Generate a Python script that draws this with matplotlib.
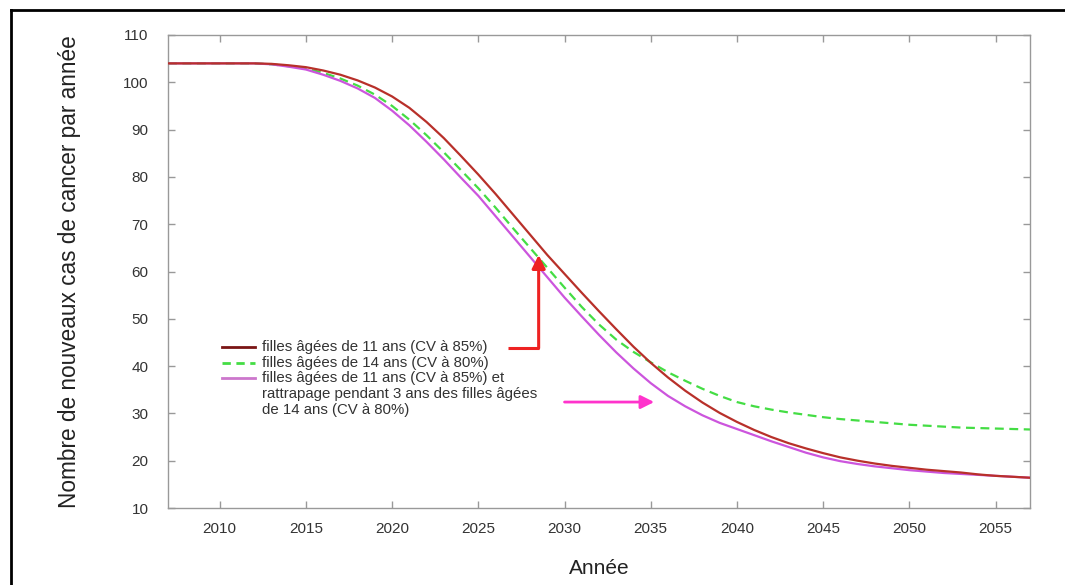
import matplotlib
matplotlib.use("Agg")
import matplotlib.pyplot as plt
from matplotlib.lines import Line2D

plt.rcParams['font.family'] = ['Liberation Sans', 'DejaVu Sans']

# values (one point per year after 2012)
annees = [2007, 2010, 2012] + list(range(2013, 2058))
cas_11ans = [104, 104, 104,
             103.9, 103.6, 103.2, 102.5, 101.6, 100.4, 98.9, 97.0, 94.6, 91.6,
             88.2, 84.4, 80.5, 76.4, 72.1, 67.8, 63.5, 59.5, 55.5, 51.6,
             47.8, 44.1, 40.7, 37.6, 34.8, 32.3, 30.1, 28.2, 26.5, 25.0,
             23.7, 22.6, 21.6, 20.7, 20.0, 19.4, 18.9, 18.5, 18.1, 17.8,
             17.5, 17.1, 16.8, 16.6, 16.4]
cas_14ans = [104, 104, 104,
             103.8, 103.4, 102.9, 102.0, 100.8, 99.3, 97.4, 95.0, 92.1, 88.8,
             85.2, 81.4, 77.6, 73.5, 69.2, 65.0, 60.8, 56.6, 52.5, 48.8,
             45.6, 43.0, 40.8, 38.7, 36.9, 35.2, 33.7, 32.4, 31.5, 30.8,
             30.2, 29.7, 29.2, 28.8, 28.5, 28.2, 27.9, 27.6, 27.4, 27.2,
             27.0, 26.9, 26.8, 26.7, 26.6]
cas_rattrapage = [104, 104, 104,
                  103.8, 103.3, 102.7, 101.6, 100.3, 98.7, 96.7, 94.0, 90.9, 87.4,
                  83.7, 79.8, 76.0, 71.7, 67.4, 63.1, 58.8, 54.5, 50.5, 46.6,
                  42.9, 39.5, 36.4, 33.7, 31.5, 29.6, 28.0, 26.7, 25.4, 24.1,
                  22.9, 21.7, 20.7, 19.9, 19.3, 18.8, 18.4, 18.0, 17.7, 17.4,
                  17.2, 17.0, 16.8, 16.6, 16.4]

legende = ["filles âgées de 11 ans (CV à 85%)",
           "filles âgées de 14 ans (CV à 80%)",
           "filles âgées de 11 ans (CV à 85%) et",
           "rattrapage pendant 3 ans des filles âgées",
           "de 14 ans (CV à 80%)"]

x_ticks = list(range(2010, 2060, 5))
y_ticks = list(range(10, 120, 10))

rouge = '#B8302A'
vert = '#44DD44'
violet = '#CC55DD'

fig = plt.figure(figsize=(10.65, 5.85), dpi=100)
W, H = 1065.0, 585.0
ax = fig.add_axes([168 / W, 1 - 508 / H, 862 / W, 473 / H])

ax.plot(annees, cas_11ans, color=rouge, lw=1.6, zorder=3)
ax.plot(annees, cas_14ans, color=vert, lw=1.6, ls=(0, (4, 2.5)), zorder=2)
ax.plot(annees, cas_rattrapage, color=violet, lw=1.6, zorder=2)

ax.set_xlim(2007, 2057)
ax.set_ylim(10, 110)
ax.set_xticks(x_ticks)
ax.set_yticks(y_ticks)

for s in ax.spines.values():
    s.set_color('#999999')
    s.set_linewidth(1.0)
ax.tick_params(direction='in', length=5, width=1, color='#999999',
               top=True, right=True, labelsize=11, labelcolor='#333333')
ax.tick_params(axis='y', pad=14)
ax.tick_params(axis='x', pad=10)

ax.set_ylabel("Nombre de nouveaux cas de cancer par année", fontsize=16.3,
              color='#222222', va='center')
ax.yaxis.set_label_coords(-0.114, 0.5)
ax.set_xlabel("Année", fontsize=15, color='#222222', va='center')
ax.xaxis.set_label_coords(0.5, -0.127)

# hand-made legend (no frame, inside the axes)
hx0, hx1, tx = 0.0626, 0.101, 0.109
ys = [0.340, 0.307, 0.274, 0.241, 0.208]
ax.plot([hx0, hx1], [ys[0], ys[0]], transform=ax.transAxes, color='#7A1515', lw=2)
ax.plot([hx0, hx1], [ys[1], ys[1]], transform=ax.transAxes, color=vert, lw=2,
        ls=(0, (3, 2)))
ax.plot([hx0, hx1], [ys[2], ys[2]], transform=ax.transAxes, color='#CC77CC', lw=2)
for txt, y in zip(legende, ys):
    ax.text(tx, y, txt, transform=ax.transAxes, fontsize=10.8, color='#333333',
            va='center', ha='left')

# arrows
ax.annotate("", xy=(2028.5, 63.5), xytext=(2028.5, 43.8),
            arrowprops=dict(arrowstyle='-|>,head_length=0.8,head_width=0.4',
                            color='#EE2222', lw=2.2, shrinkA=0, shrinkB=0))
ax.plot([2026.7, 2028.5], [43.8, 43.8], color='#EE2222', lw=2.2,
        solid_capstyle='butt')
ax.annotate("", xy=(2035.2, 32.4), xytext=(2030.0, 32.4),
            arrowprops=dict(arrowstyle='-|>,head_length=0.8,head_width=0.4',
                            color='#FF33CC', lw=2, shrinkA=0, shrinkB=0))

# black frame around the figure (left and top visible)
fig.add_artist(Line2D([11 / W, 11 / W], [0, 1 - 10 / H], color='black', lw=2,
                      transform=fig.transFigure))
fig.add_artist(Line2D([11 / W, 1], [1 - 10 / H, 1 - 10 / H], color='black', lw=2,
                      transform=fig.transFigure))

fig.savefig("out.png", dpi=100)
